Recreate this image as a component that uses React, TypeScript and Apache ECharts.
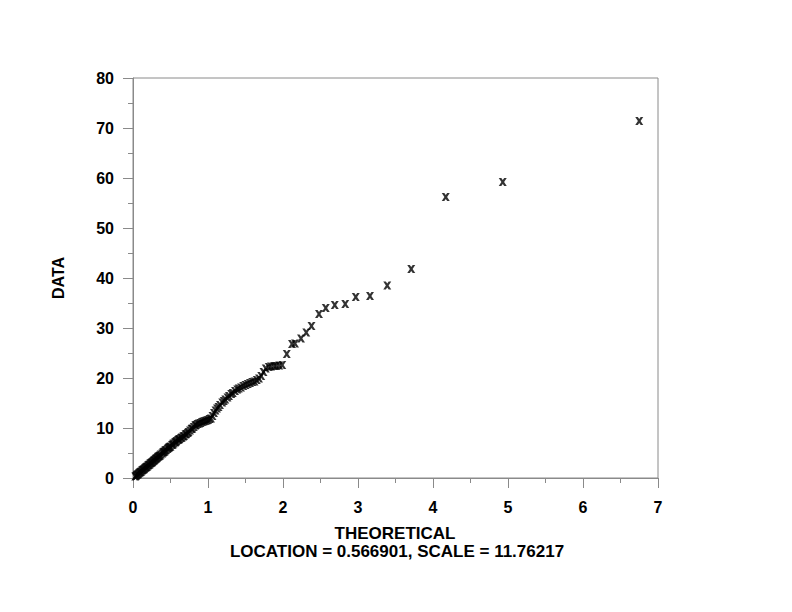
import React, { useEffect, useRef } from "react";
import * as echarts from "echarts";

// Theoretical (exponential) quantiles, x-axis
const theoretical: number[] = [
  0.03, 0.04, 0.05, 0.06, 0.07, 0.08, 0.09, 0.10, 0.11, 0.12,
  0.13, 0.14, 0.15, 0.16, 0.17, 0.18, 0.19, 0.20, 0.21, 0.22,
  0.23, 0.24, 0.25, 0.26, 0.27, 0.28, 0.29, 0.30, 0.31, 0.32,
  0.33, 0.34, 0.35, 0.36, 0.37, 0.39, 0.40, 0.41, 0.42, 0.43,
  0.44, 0.46, 0.47, 0.48, 0.49, 0.50, 0.52, 0.53, 0.54, 0.56,
  0.57, 0.58, 0.60, 0.61, 0.62, 0.64, 0.65, 0.67, 0.68, 0.70,
  0.71, 0.73, 0.74, 0.76, 0.78, 0.79, 0.81, 0.83, 0.84, 0.86,
  0.88, 0.90, 0.92, 0.94, 0.96, 0.98, 1.00, 1.02, 1.04, 1.06,
  1.08, 1.10, 1.12, 1.14, 1.16, 1.19, 1.21, 1.23, 1.26, 1.28,
  1.31, 1.33, 1.36, 1.39, 1.41, 1.44, 1.47, 1.50, 1.53, 1.56,
  1.59, 1.62, 1.65, 1.68, 1.71, 1.74, 1.77, 1.81, 1.84, 1.88,
  1.91, 1.95, 1.99,
  2.05, 2.12, 2.16, 2.24, 2.31, 2.38, 2.48, 2.57, 2.69, 2.83,
  2.97, 3.16, 3.39, 3.71, 4.17, 4.93, 6.75,
];

// Sorted data values, y-axis
const dataValues: number[] = [
  0.3, 0.4, 0.6, 0.7, 0.8, 1.0, 1.1, 1.2, 1.3, 1.5,
  1.6, 1.7, 1.8, 2.0, 2.1, 2.2, 2.3, 2.5, 2.6, 2.7,
  2.9, 3.0, 3.1, 3.2, 3.4, 3.5, 3.6, 3.8, 3.9, 4.0,
  4.2, 4.3, 4.4, 4.5, 4.7, 4.9, 5.1, 5.2, 5.3, 5.5,
  5.6, 5.8, 6.0, 6.1, 6.2, 6.3, 6.6, 6.7, 6.9, 7.1,
  7.2, 7.4, 7.6, 7.7, 7.8, 8.0, 8.1, 8.3, 8.4, 8.7,
  8.8, 9.0, 9.2, 9.5, 9.8, 9.9, 10.2, 10.5, 10.6, 10.8,
  10.9, 11.0, 11.2, 11.3, 11.4, 11.5, 11.6, 11.8, 11.9, 12.4,
  13.0, 13.5, 13.9, 14.2, 14.6, 15.1, 15.4, 15.7, 16.1, 16.4,
  16.8, 17.0, 17.4, 17.7, 17.9, 18.1, 18.4, 18.6, 18.8, 19.0,
  19.2, 19.3, 19.6, 19.9, 20.4, 21.2, 21.9, 22.2, 22.3, 22.4,
  22.4, 22.5, 22.6,
  24.8, 26.8, 26.9, 27.9, 29.1, 30.4, 32.8, 34.0, 34.6, 34.8,
  36.2, 36.4, 38.5, 41.8, 56.2, 59.2, 71.4,
];

const xTicks = { min: 0, max: 7, interval: 1 };
const yTicks = { min: 0, max: 80, interval: 10 };

const xTitle = "THEORETICAL";
const xSubtitle = "LOCATION = 0.566901, SCALE = 11.76217";
const yTitle = "DATA";

const FONT = "'Liberation Sans', Arial, Helvetica, sans-serif";
const AXIS_GRAY = "#8a8a8a";
const X_MARK =
  "path://M0,0 L3.2,0 L5,2.6 L6.8,0 L10,0 L6.7,5 L10,10 L6.8,10 L5,7.4 L3.2,10 L0,10 L3.3,5 Z";

export default function App() {
  const ref = useRef<HTMLDivElement>(null);

  useEffect(() => {
    if (!ref.current) return;
    const chart = echarts.init(ref.current, undefined, { renderer: "svg" });
    const points = theoretical.map((x, i) => [x, dataValues[i]]);
    const labelStyle = {
      color: "#000",
      fontFamily: FONT,
      fontWeight: "bold" as const,
      fontSize: 16,
    };
    chart.setOption({
      animation: false,
      backgroundColor: "#fff",
      grid: {
        left: 133,
        right: 134,
        top: 78,
        bottom: 134,
        show: true,
        borderColor: AXIS_GRAY,
        borderWidth: 1,
        backgroundColor: "transparent",
      },
      xAxis: {
        type: "value",
        min: xTicks.min,
        max: xTicks.max,
        interval: xTicks.interval,
        axisLine: { show: true, onZero: false, lineStyle: { color: AXIS_GRAY, width: 1 } },
        axisTick: { show: true, length: 10, lineStyle: { color: AXIS_GRAY } },
        minorTick: { show: true, splitNumber: 2, length: 5, lineStyle: { color: AXIS_GRAY } },
        splitLine: { show: false },
        axisLabel: { ...labelStyle, margin: 21 },
      },
      yAxis: {
        type: "value",
        min: yTicks.min,
        max: yTicks.max,
        interval: yTicks.interval,
        axisLine: { show: true, onZero: false, lineStyle: { color: AXIS_GRAY, width: 1 } },
        axisTick: { show: true, length: 10, lineStyle: { color: AXIS_GRAY } },
        minorTick: { show: true, splitNumber: 2, length: 5, lineStyle: { color: AXIS_GRAY } },
        splitLine: { show: false },
        axisLabel: { ...labelStyle, margin: 19 },
        name: yTitle,
        nameLocation: "middle",
        nameRotate: 90,
        nameGap: 67,
        nameTextStyle: { ...labelStyle },
      },
      graphic: [
        {
          type: "text",
          x: 395,
          y: 533,
          style: {
            text: xTitle,
            fill: "#000",
            font: `bold 17px ${FONT}`,
            textAlign: "center",
            textVerticalAlign: "middle",
          },
        },
        {
          type: "text",
          x: 397,
          y: 551,
          style: {
            text: xSubtitle,
            fill: "#000",
            font: `bold 17px ${FONT}`,
            textAlign: "center",
            textVerticalAlign: "middle",
          },
        },
      ],
      series: [
        {
          type: "scatter",
          data: points,
          symbol: X_MARK,
          symbolSize: [8, 8],
          itemStyle: { color: "#000" },
          emphasis: { disabled: true },
        },
      ],
    });
    return () => chart.dispose();
  }, []);

  return <div ref={ref} style={{ width: 792, height: 612, margin: -8 }} />;
}
